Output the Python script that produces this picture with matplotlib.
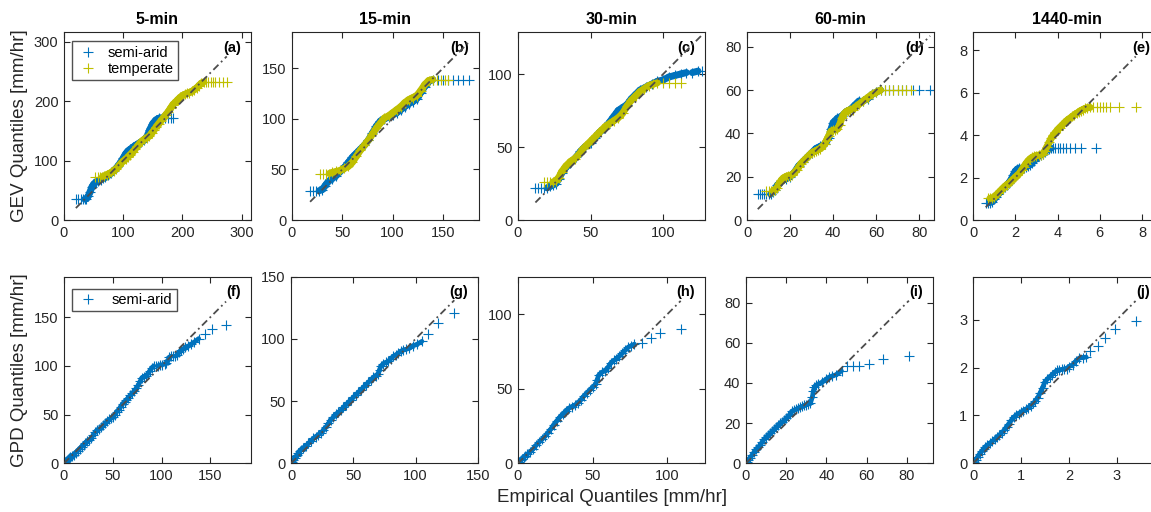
import numpy as np
import matplotlib.pyplot as plt
from matplotlib.collections import LineCollection

plt.rcParams['font.family'] = ['Liberation Sans', 'DejaVu Sans']

durations = ['5-min', '15-min', '30-min', '60-min', '1440-min']
top_tags = ['(a)', '(b)', '(c)', '(d)', '(e)']
bottom_tags = ['(f)', '(g)', '(h)', '(i)', '(j)']

# ---- GEV quantiles (top row): empirical x, fitted y ----
# 5-min
a_arid_x = [20, 24, 28, 32, 35, 38, 41, 44, 47, 50, 54, 58, 62, 66, 70, 75, 80, 85, 90, 95, 100, 104, 108,
            112, 116, 120, 125, 130, 135, 140, 145, 150, 155, 160, 165, 170, 175, 180, 185]
a_arid_y = [35, 35, 35, 35, 35, 36, 40, 47, 55, 60, 64, 66, 68, 70, 72, 75, 79, 84, 89, 96, 104, 111, 116,
            119, 122, 125, 128, 131, 134, 140, 152, 162, 168, 171, 172, 172, 172, 172, 172]
a_temp_x = [53, 57, 61, 65, 68, 72, 76, 80, 84, 88, 92, 96, 100, 104, 108, 112, 116, 120, 124, 128, 132, 136,
            140, 144, 148, 152, 156, 160, 164, 168, 172, 176, 180, 184, 188, 192, 196, 200, 204, 208, 212,
            216, 220, 224, 228, 232, 236, 240, 244, 248, 252, 256, 262, 268, 275]
a_temp_y = [73, 73, 73, 73, 74, 76, 78, 80, 83, 86, 90, 95, 99, 102, 106, 110, 114, 119, 124, 129, 133, 136,
            138, 141, 146, 151, 157, 162, 167, 172, 177, 182, 188, 194, 198, 202, 206, 209, 211, 213, 214,
            216, 219, 222, 226, 230, 232, 232, 232, 232, 232, 232, 232, 232, 232]

# 15-min
b_arid_x = [18, 21, 24, 27, 30, 33, 36, 40, 44, 48, 52, 56, 60, 64, 68, 72, 76, 80, 84, 88, 92, 96, 100,
            104, 108, 112, 116, 120, 124, 128, 132, 136, 140, 145, 150, 155, 160, 165, 170, 176]
b_arid_y = [29, 29, 29, 29, 30, 34, 38, 41, 44, 48, 52, 57, 62, 66, 70, 74, 79, 86, 93, 98, 100, 102, 104,
            106, 109, 112, 115, 117, 120, 126, 132, 137, 139, 139, 139, 139, 139, 139, 139, 139]
b_temp_x = [28, 31, 34, 37, 40, 44, 48, 52, 56, 60, 64, 68, 72, 76, 80, 84, 88, 92, 96, 100, 104, 108, 112,
            116, 120, 124, 128, 132, 136, 140, 144, 148, 152, 155]
b_temp_y = [46, 46, 46, 46, 47, 48, 49, 51, 53, 57, 63, 69, 74, 79, 85, 91, 96, 101, 103, 106, 109, 112, 116,
            119, 121, 123, 128, 134, 138, 139, 139, 139, 139, 139]

# 30-min
c_arid_x = [12, 14, 16, 18, 20, 22, 24, 26, 28, 30, 33, 36, 40, 43, 46, 50, 53, 56, 60, 63, 66, 69, 72, 75,
            78, 81, 84, 88, 92, 96, 100, 104, 108, 112, 116, 120, 124, 127]
c_arid_y = [22, 22, 22, 22, 22, 23, 24, 25, 28, 32, 36, 39, 43, 47, 50, 53, 56, 60, 63, 67, 71, 75, 77, 79,
            83, 86, 89, 91, 93, 95, 96, 98, 99, 100, 101, 101, 102, 102]
c_temp_x = [18, 20, 22, 24, 26, 28, 30, 33, 36, 39, 42, 45, 48, 51, 54, 57, 60, 63, 66, 69, 72, 75, 78, 81,
            84, 87, 90, 93, 96, 100, 104, 108, 112]
c_temp_y = [26, 26, 26, 26, 27, 29, 33, 37, 40, 42, 45, 49, 52, 55, 58, 61, 64, 66, 68, 70, 73, 78, 82, 85,
            88, 90, 92, 93, 94, 94, 94, 94, 94]

# 60-min
d_arid_x = [5, 6, 7, 8, 9, 10, 11, 12, 13, 14, 15, 16, 18, 20, 22, 24, 26, 28, 30, 32, 34, 36, 38, 39, 40,
            42, 44, 46, 48, 50, 52, 54, 56, 58, 60, 62, 64, 66, 68, 70, 72, 74, 77, 80, 85]
d_arid_y = [12, 12, 12, 12, 12, 12, 12, 13, 14, 16, 17, 18, 19, 20, 22, 25, 27, 29, 31, 33, 34, 35, 38, 42,
            45, 47, 48, 50, 51, 53, 55, 55, 56, 58, 59, 60, 60, 60, 60, 60, 60, 60, 60, 60, 60]
d_temp_x = [9, 10, 11, 12, 13, 14, 15, 16, 17, 18, 19, 20, 21, 22, 23, 24, 25, 26, 27, 28, 29, 30, 31, 32,
            33, 34, 35, 36, 37, 38, 39, 40, 41, 42, 43, 44, 45, 46, 47, 48, 49, 50, 52, 54, 56, 58, 60, 62,
            64, 66, 68, 70, 72, 74, 76]
d_temp_y = [13.5, 13.5, 13.5, 13.5, 14, 15, 17, 18.5, 19.5, 20, 20.5, 20.5, 21, 22, 23, 24.5, 26, 27, 28,
            29, 30, 31, 31.5, 32, 32.5, 33, 34, 35, 37, 39, 41, 41.5, 41.5, 42, 44, 47, 49, 50, 50.5, 51, 51,
            52, 53.5, 55, 56.5, 58, 59, 60, 60, 60, 60, 60, 60, 60, 60]

# 1440-min
e_arid_x = [0.6, 0.7, 0.8, 0.9, 1.0, 1.1, 1.2, 1.3, 1.4, 1.5, 1.6, 1.7, 1.8, 1.9, 2.0, 2.1, 2.2, 2.3, 2.4,
            2.5, 2.6, 2.7, 2.8, 2.9, 3.0, 3.1, 3.2, 3.3, 3.4, 3.5, 3.6, 3.7, 3.8, 3.9, 4.0, 4.1, 4.25, 4.4,
            4.6, 4.85, 5.1, 5.8]
e_arid_y = [0.82, 0.82, 0.82, 0.86, 0.98, 1.1, 1.22, 1.35, 1.45, 1.55, 1.65, 1.75, 1.9, 2.1, 2.3, 2.4,
            2.45, 2.45, 2.45, 2.5, 2.55, 2.6, 2.7, 2.8, 2.9, 3.0, 3.05, 3.1, 3.2, 3.3, 3.36, 3.38, 3.38,
            3.38, 3.38, 3.38, 3.38, 3.38, 3.38, 3.38, 3.38, 3.38]
e_temp_x = [0.7, 0.8, 0.9, 1.0, 1.1, 1.2, 1.3, 1.4, 1.5, 1.6, 1.7, 1.8, 1.9, 2.0, 2.1, 2.2, 2.3, 2.4, 2.5,
            2.6, 2.7, 2.8, 2.9, 3.0, 3.1, 3.2, 3.3, 3.4, 3.5, 3.6, 3.7, 3.8, 3.9, 4.0, 4.1, 4.2, 4.3, 4.4,
            4.5, 4.6, 4.7, 4.8, 4.9, 5.0, 5.1, 5.2, 5.3, 5.4, 5.55, 5.7, 5.85, 6.0, 6.15, 6.3, 6.5, 6.9, 7.7]
e_temp_y = [1.02, 1.02, 1.03, 1.08, 1.18, 1.28, 1.38, 1.48, 1.58, 1.66, 1.72, 1.82, 1.92, 2.02, 2.1, 2.2,
            2.35, 2.5, 2.65, 2.78, 2.88, 2.95, 3.0, 3.03, 3.05, 3.08, 3.12, 3.25, 3.45, 3.65, 3.85, 4.0,
            4.12, 4.25, 4.35, 4.45, 4.55, 4.65, 4.73, 4.8, 4.88, 4.95, 5.02, 5.08, 5.15, 5.2, 5.25, 5.28,
            5.3, 5.3, 5.3, 5.3, 5.3, 5.3, 5.3, 5.3, 5.3]

# ---- GPD quantiles (bottom row), semi-arid only ----
f_x = [0, 1, 2, 3, 4, 5, 6, 8, 10, 12, 14, 16, 18, 20, 22, 24, 26, 28, 30, 32, 34, 36, 38, 40, 42, 44, 46,
       48, 50, 52, 54, 56, 58, 60, 62, 64, 66, 68, 70, 72, 74, 76, 78, 80, 82, 84, 86, 88, 90, 92, 94, 96,
       98, 100, 103, 105, 107, 108, 110, 112, 114, 116, 118, 120, 122, 124, 127, 130, 133, 138, 144, 152, 166]
f_y = [0, 1, 2, 3, 4, 5, 6, 7.5, 9, 11, 13, 15, 17, 19, 21, 23, 24, 26, 29, 32, 34, 35, 37, 39, 41, 43, 45,
       46, 48, 50, 53, 55, 58, 61, 63, 65, 67, 70, 72, 74, 77, 80, 84, 88, 89, 90, 92, 95, 98, 100, 100,
       100, 101, 101, 102, 103, 106, 109, 110, 110, 110, 111, 114, 116, 117, 119, 120, 122, 124, 128, 133,
       138, 142]

g_x = [0, 1, 2, 3, 4, 5, 6, 7, 8, 10, 12, 14, 16, 18, 20, 22, 24, 26, 28, 30, 32, 34, 36, 38, 40, 42, 44,
       46, 48, 50, 52, 54, 56, 58, 60, 62, 64, 66, 68, 70, 71, 72, 74, 76, 78, 80, 82, 84, 86, 88, 90, 92,
       95, 98, 101, 105, 110, 118, 131]
g_y = [0, 1, 2.5, 4, 5.5, 7, 8.5, 10, 11, 12.5, 14, 16, 18, 20, 21.5, 23, 24.5, 26.5, 29, 32, 35, 37, 39.5,
       41, 42.5, 45, 47, 49, 51, 53, 55, 57, 59, 61, 63, 65, 67, 69, 70.5, 72, 75, 78, 80, 81, 82, 84, 86,
       87, 88.5, 90, 91, 91.5, 92.5, 94.5, 95.5, 98, 104, 112.5, 120.6]

h_x = [0, 1, 2, 3, 4, 5, 6, 8, 10, 12, 14, 16, 18, 20, 22, 24, 26, 28, 30, 32, 34, 36, 38, 40, 42, 44, 46,
       48, 50, 52, 53, 54, 56, 58, 60, 62, 64, 66, 68, 70, 72, 74, 76, 78, 83, 89, 95, 109]
h_y = [0, 1, 2, 3, 4, 5, 6, 7.5, 9.5, 12, 14, 16, 18, 20.5, 23, 26, 28.5, 31, 33, 35, 37, 38, 39, 40.5,
       42.5, 45, 47, 49, 51, 53, 56, 59, 61, 62, 64, 67, 69, 70, 72, 74, 76, 78, 79, 80, 81, 84, 87.5, 90]

i_x = [0, 0.5, 1, 2, 3, 4, 5, 6, 7, 8, 9, 10, 11, 12, 13, 14, 15, 16, 17, 18, 19, 20, 21, 22, 23, 24, 25,
       26, 27, 28, 29, 30, 31, 32, 33, 33.5, 34, 35, 36, 38, 40, 41.5, 43, 45, 47.5, 50, 53, 56, 61, 68, 81]
i_y = [0, 0.8, 1.5, 2.8, 4, 5.5, 7, 8, 9, 10.5, 12, 13, 14, 15, 16, 17, 18, 19, 20, 20.5, 21.5, 22.5, 23.5,
       24.5, 26, 26.5, 27, 27.5, 28, 28.3, 28.8, 29.2, 29.5, 30, 33, 36, 38, 39, 39.5, 40.5, 42, 43, 43.5,
       44.2, 46, 48.3, 48.3, 48.3, 49.7, 52, 53.3]

j_x = [0, 0.03, 0.06, 0.1, 0.14, 0.18, 0.22, 0.26, 0.3, 0.35, 0.4, 0.45, 0.5, 0.55, 0.6, 0.65, 0.7, 0.75,
       0.8, 0.85, 0.9, 0.95, 1.0, 1.05, 1.1, 1.15, 1.2, 1.25, 1.3, 1.35, 1.4, 1.45, 1.5, 1.55, 1.6, 1.65,
       1.7, 1.75, 1.8, 1.85, 1.9, 1.95, 2.0, 2.08, 2.15, 2.22, 2.3, 2.36, 2.45, 2.61, 2.75, 2.97, 3.39]
j_y = [0, 0.03, 0.07, 0.14, 0.2, 0.25, 0.3, 0.34, 0.38, 0.42, 0.46, 0.5, 0.55, 0.59, 0.64, 0.69, 0.76,
       0.83, 0.9, 0.96, 1.01, 1.04, 1.07, 1.1, 1.13, 1.16, 1.2, 1.25, 1.3, 1.37, 1.47, 1.58, 1.7, 1.76,
       1.81, 1.85, 1.9, 1.94, 1.95, 1.96, 1.97, 1.98, 2.02, 2.06, 2.14, 2.2, 2.21, 2.22, 2.35, 2.46, 2.61,
       2.81, 2.98]

top_arid = [(a_arid_x, a_arid_y), (b_arid_x, b_arid_y), (c_arid_x, c_arid_y), (d_arid_x, d_arid_y),
            (e_arid_x, e_arid_y)]
top_temp = [(a_temp_x, a_temp_y), (b_temp_x, b_temp_y), (c_temp_x, c_temp_y), (d_temp_x, d_temp_y),
            (e_temp_x, e_temp_y)]
bottom_arid = [(f_x, f_y), (g_x, g_y), (h_x, h_y), (i_x, i_y), (j_x, j_y)]

top_lims = [316, 186, 128.8, 86.8, 8.85]
bottom_lims = [191.6, 150, 125.3, 93, 3.9]
top_ticks = [[0, 100, 200, 300], [0, 50, 100, 150], [0, 50, 100], [0, 20, 40, 60, 80], [0, 2, 4, 6, 8]]
bottom_ticks = [[0, 50, 100, 150], [0, 50, 100, 150], [0, 50, 100], [0, 20, 40, 60, 80], [0, 1, 2, 3]]

blue = '#0072BD'
olive = '#BFBF00'
axcol = '#262626'

fig = plt.figure(figsize=(11.51, 5.12), dpi=100)
W, H = 1151, 512
top_left = [64, 292, 518, 747, 973]
bot_left = [64, 291, 518, 746, 973]


def style_axis(ax, lim, ticks, tag):
    ax.set_xlim(0, lim)
    ax.set_ylim(0, lim)
    ax.set_xticks(ticks)
    ax.set_yticks(ticks)
    ax.tick_params(direction='in', length=4, width=0.8, top=True, right=True,
                   labelsize=10.5, colors=axcol, pad=4)
    for s in ax.spines.values():
        s.set_color(axcol)
        s.set_linewidth(0.8)
    ax.text(0.947, 0.915, tag, transform=ax.transAxes, ha='right', va='center',
            fontsize=10.5, fontweight='bold', color='black')


def qq_points(ax, xs, ys, color, label, band, reach):
    # crowded quantiles merge into a solid band; flat tails stay as single crosses
    pts = ax.transData.transform(np.column_stack([xs, ys]))
    gap = np.hypot(*np.diff(pts, axis=0).T)
    segs = [[(xs[n], ys[n]), (xs[n + 1], ys[n + 1])] for n in range(len(xs) - 1)
            if gap[n] < reach and ys[n + 1] != ys[n]]
    ax.add_collection(LineCollection(segs, colors=color, linewidths=band, capstyle='round'))
    ax.plot(xs, ys, color=color, label=label, ls='none', marker='+', markersize=6.5,
            markeredgewidth=0.8)


def one_to_one(ax, xs):
    lo, hi = min(xs), max(xs)
    ax.plot([lo, hi], [lo, hi], color='#4d4d4d', lw=1.3, ls=(0, (4, 2, 1, 2)), zorder=3)


for k in range(5):
    ax = fig.add_axes([top_left[k] / W, (H - 220) / H, 187 / W, 188 / H])
    style_axis(ax, top_lims[k], top_ticks[k], top_tags[k])
    xa, ya = top_arid[k]
    xt, yt = top_temp[k]
    qq_points(ax, xa, ya, blue, 'semi-arid', 5.0, 11)
    qq_points(ax, xt, yt, olive, 'temperate', 5.0, 11)
    one_to_one(ax, xa + xt)
    ax.set_title(durations[k], fontsize=11.5, fontweight='bold', pad=6)
    if k == 0:
        ax.set_ylabel('GEV Quantiles [mm/hr]', fontsize=13.5, color=axcol, labelpad=4)
        ax.legend(loc='upper left', bbox_to_anchor=(0.045, 0.95), fontsize=10.5, frameon=True,
                  fancybox=False, edgecolor=axcol, borderpad=0.3, labelspacing=0.15,
                  handlelength=1.6, handletextpad=0.5, borderaxespad=0)

for k in range(5):
    ax = fig.add_axes([bot_left[k] / W, (H - 463.3) / H, 187 / W, 186.7 / H])
    style_axis(ax, bottom_lims[k], bottom_ticks[k], bottom_tags[k])
    xs, ys = bottom_arid[k]
    qq_points(ax, xs, ys, blue, 'semi-arid', 3.4, 6.5)
    one_to_one(ax, [0] + xs)
    if k == 0:
        ax.set_ylabel('GPD Quantiles [mm/hr]', fontsize=13.5, color=axcol, labelpad=4)
        ax.legend(loc='upper left', bbox_to_anchor=(0.045, 0.935), fontsize=10.5, frameon=True,
                  fancybox=False, edgecolor=axcol, borderpad=0.3, labelspacing=0.15,
                  handlelength=1.6, handletextpad=0.8, borderaxespad=0)

fig.text(612 / W, 1 - 497 / H, 'Empirical Quantiles [mm/hr]', ha='center', va='center',
         fontsize=13.5, color=axcol)

fig.savefig('out.png', dpi=100)
